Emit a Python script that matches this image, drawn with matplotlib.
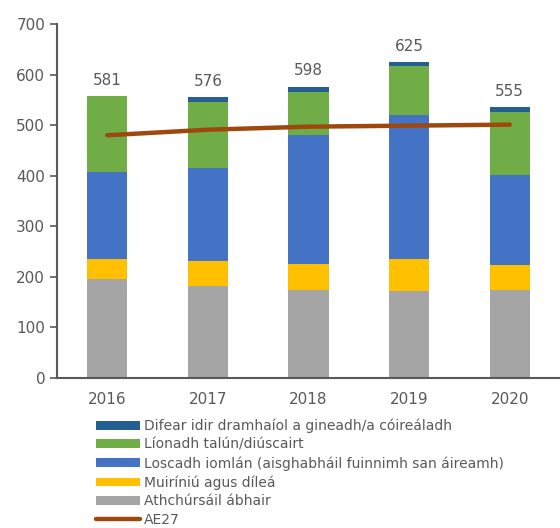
import numpy as np
import matplotlib.pyplot as plt

years = ['2016', '2017', '2018', '2019', '2020']
athchursail = [196, 181, 175, 173, 175]
muiriniu = [40, 51, 51, 62, 48]
loscadh = [172, 184, 254, 285, 178]
lionadh = [149, 129, 86, 97, 125]
difear = [0, 10, 10, 8, 10]
totals = [581, 576, 598, 625, 555]
ae27 = [480, 491, 497, 499, 501]

series = [
    ('Athchúrsáil ábhair', athchursail, '#A5A5A5'),
    ('Muiríniú agus díleá', muiriniu, '#FFC000'),
    ('Loscadh iomlán (aisghabháil fuinnimh san áireamh)', loscadh, '#4472C4'),
    ('Líonadh talún/diúscairt', lionadh, '#70AD47'),
    ('Difear idir dramhaíol a gineadh/a cóireáladh', difear, '#255E91'),
]

TXT = '#595959'
plt.rcParams['font.family'] = ['DejaVu Sans']

fig = plt.figure(figsize=(5.6, 5.28), dpi=100)
ax = fig.add_axes([57 / 560, 1 - 378 / 528, 1 - 57 / 560, (378 - 24) / 528])

x = np.arange(len(years))
bottom = np.zeros(len(years))
handles = []
for name, vals, col in series:
    b = ax.bar(x, vals, width=0.4, bottom=bottom, color=col, label=name)
    bottom += np.array(vals)
    handles.append(b)

ln, = ax.plot(x, ae27, color='#9E480E', lw=3.2, solid_capstyle='round', label='AE27')

# etiquetas de total encima de cada barra
for xi, top, t in zip(x, bottom, totals):
    ax.annotate(str(t), (xi, top), xytext=(0, 6), textcoords='offset points',
                ha='center', va='bottom', fontsize=11, color=TXT)

ax.set_xlim(-0.5, 4.5)
ax.set_ylim(0, 700)
ax.set_yticks(range(0, 701, 100))
ax.set_xticks(x)
ax.set_xticklabels(years)
ax.tick_params(axis='y', colors=TXT, labelsize=11, length=5, width=1.2)
ax.tick_params(axis='x', colors=TXT, labelsize=11, length=0, pad=10)
for s in ['top', 'right']:
    ax.spines[s].set_visible(False)
for s in ['left', 'bottom']:
    ax.spines[s].set_color(TXT)
    ax.spines[s].set_linewidth(1.5)

h = handles[::-1] + [ln]
leg = fig.legend(h, [hh.get_label() for hh in h], loc='upper left',
                 bbox_to_anchor=(90 / 560, 1 - 413 / 528), frameon=False,
                 fontsize=10, labelspacing=0.33, handlelength=3.2,
                 handleheight=0.6, handletextpad=0.3, borderaxespad=0)
for t in leg.get_texts():
    t.set_color(TXT)

fig.savefig('out.png', dpi=100)
